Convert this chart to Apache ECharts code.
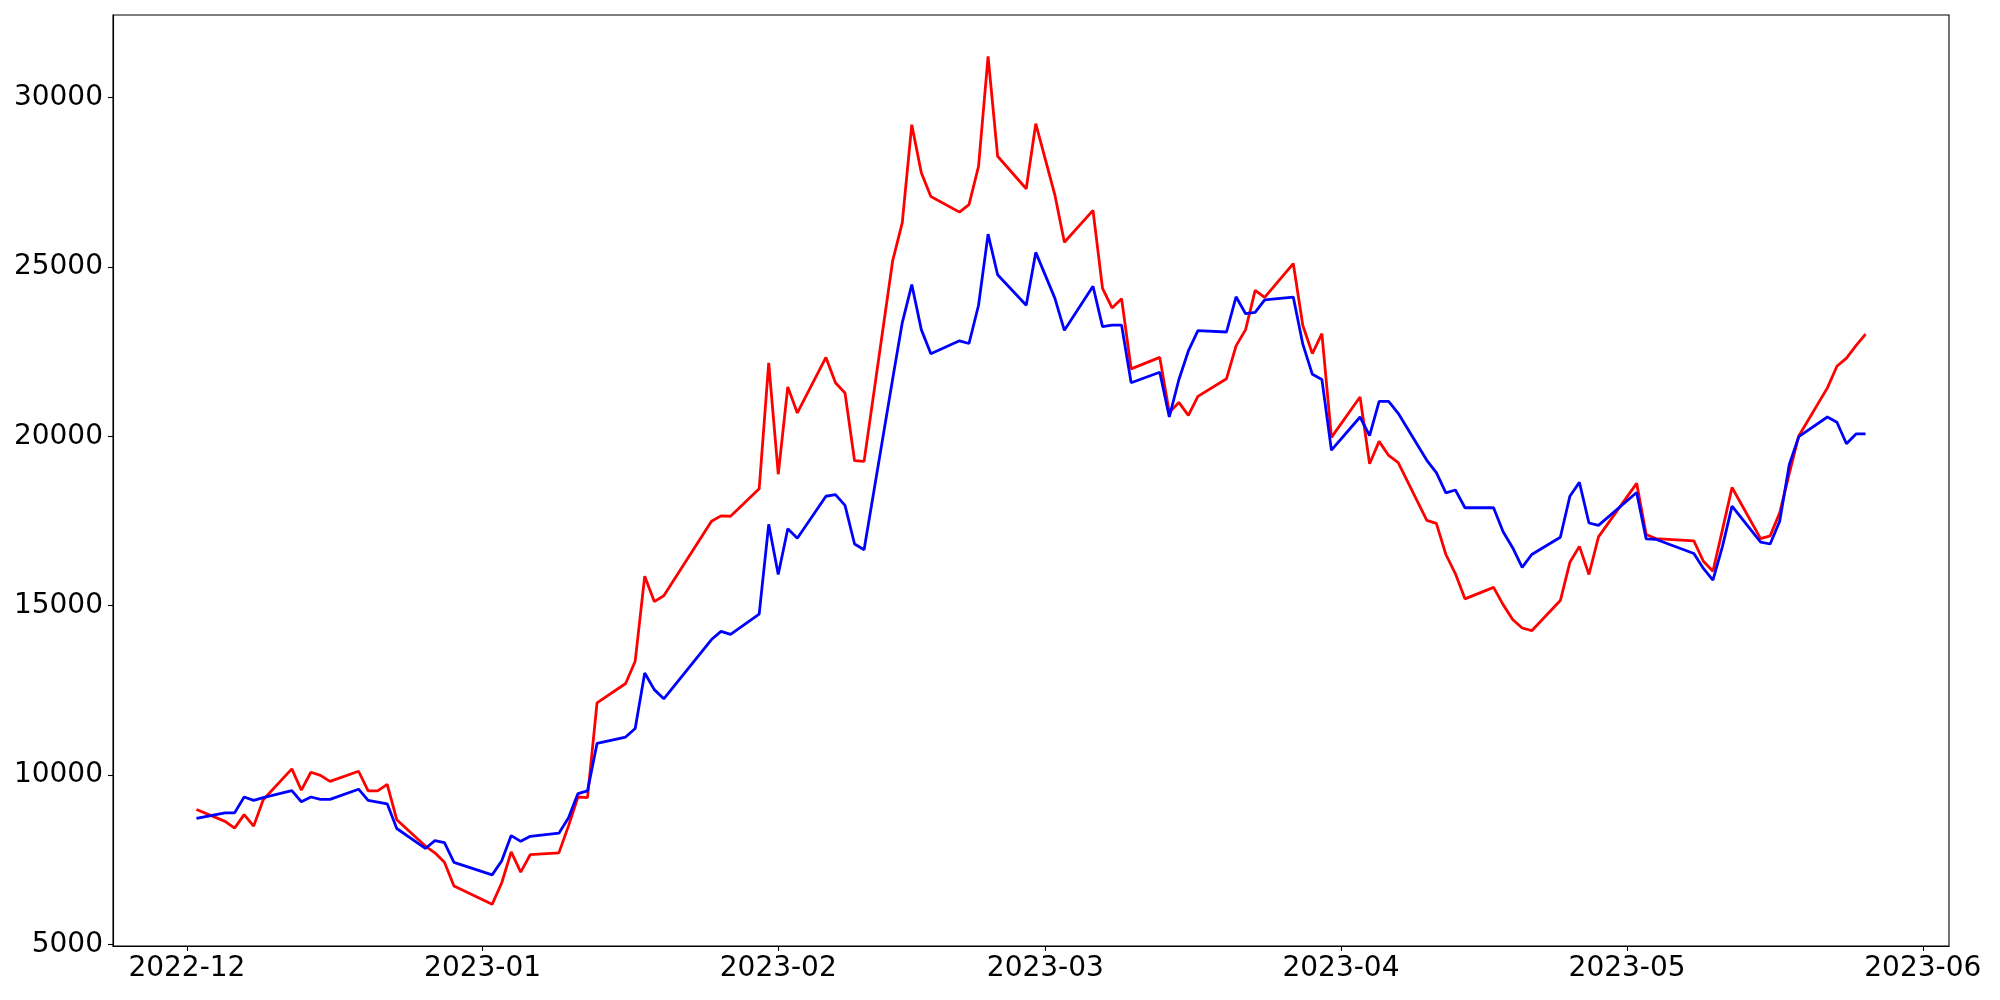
<!DOCTYPE html>
<html>
<head>
<meta charset="utf-8">
<script src="https://cdn.jsdelivr.net/npm/echarts@6/dist/echarts.min.js"></script>
<style>
html,body{margin:0;padding:0;background:#fff;}
#chart{width:2000px;height:1000px;}
</style>
</head>
<body>
<div id="chart"></div>
<script>
// Trading dates (weekdays, KRX-style calendar)
const dates = [
 '2022-12-02','2022-12-05','2022-12-06','2022-12-07','2022-12-08','2022-12-09',
 '2022-12-12','2022-12-13','2022-12-14','2022-12-15','2022-12-16',
 '2022-12-19','2022-12-20','2022-12-21','2022-12-22','2022-12-23',
 '2022-12-26','2022-12-27','2022-12-28','2022-12-29',
 '2023-01-02','2023-01-03','2023-01-04','2023-01-05','2023-01-06',
 '2023-01-09','2023-01-10','2023-01-11','2023-01-12','2023-01-13',
 '2023-01-16','2023-01-17','2023-01-18','2023-01-19','2023-01-20',
 '2023-01-25','2023-01-26','2023-01-27','2023-01-30','2023-01-31',
 '2023-02-01','2023-02-02','2023-02-03','2023-02-06','2023-02-07','2023-02-08','2023-02-09','2023-02-10',
 '2023-02-13','2023-02-14','2023-02-15','2023-02-16','2023-02-17',
 '2023-02-20','2023-02-21','2023-02-22','2023-02-23','2023-02-24','2023-02-27','2023-02-28',
 '2023-03-02','2023-03-03','2023-03-06','2023-03-07','2023-03-08','2023-03-09','2023-03-10',
 '2023-03-13','2023-03-14','2023-03-15','2023-03-16','2023-03-17',
 '2023-03-20','2023-03-21','2023-03-22','2023-03-23','2023-03-24',
 '2023-03-27','2023-03-28','2023-03-29','2023-03-30','2023-03-31',
 '2023-04-03','2023-04-04','2023-04-05','2023-04-06','2023-04-07',
 '2023-04-10','2023-04-11','2023-04-12','2023-04-13','2023-04-14',
 '2023-04-17','2023-04-18','2023-04-19','2023-04-20','2023-04-21',
 '2023-04-24','2023-04-25','2023-04-26','2023-04-27','2023-04-28',
 '2023-05-02','2023-05-03','2023-05-04','2023-05-08','2023-05-09','2023-05-10','2023-05-11','2023-05-12',
 '2023-05-15','2023-05-16','2023-05-17','2023-05-18','2023-05-19',
 '2023-05-22','2023-05-23','2023-05-24','2023-05-25','2023-05-26'
];

const redValues = [
 8980, 8630, 8430, 8830, 8490, 9270,
 10180, 9550, 10080, 9990, 9810,
 10110, 9530, 9530, 9720, 8680,
 7900, 7700, 7420, 6720,
 6180, 6810, 7730, 7130, 7650,
 7700, 8490, 9350, 9330, 12130,
 12700, 13360, 15870, 15120, 15290,
 17490, 17650, 17640, 18450, 22170,
 18880, 21460, 20690, 22330, 21580, 21280, 19280, 19260,
 25190, 26300, 29200, 27780, 27080,
 26620, 26840, 27970, 31220, 28270, 27310, 29230,
 27130, 25730, 26670, 24370, 23790, 24060, 21990,
 22330, 20700, 21000, 20620, 21180,
 21700, 22670, 23150, 24310, 24100,
 25100, 23270, 22440, 23030, 19970,
 21160, 19190, 19850, 19435, 19220,
 17515, 17430, 16510, 15940, 15200,
 15540, 15030, 14590, 14340, 14260,
 15150, 16280, 16750, 15920, 17030,
 18610, 17100, 16980, 16910, 16310, 16015, 17245, 18490,
 16980, 17060, 17740, 18900, 20010,
 21430, 22070, 22310, 22680, 23020
];

const blueValues = [
 8720, 8880, 8880, 9350, 9250, 9330,
 9540, 9210, 9350, 9280, 9280,
 9580, 9250, 9200, 9150, 8420,
 7830, 8060, 8000, 7420,
 7050, 7460, 8210, 8040, 8190,
 8280, 8730, 9450, 9530, 10930,
 11120, 11370, 13010, 12520, 12250,
 14000, 14240, 14150, 14750, 17400,
 15920, 17270, 16990, 18230, 18280, 17960, 16820, 16650,
 21700, 23350, 24480, 23150, 22440,
 22820, 22740, 23870, 25970, 24770, 23870, 25430,
 24080, 23130, 24430, 23240, 23280, 23280, 21580,
 21890, 20570, 21670, 22520, 23120,
 23080, 24120, 23620, 23660, 24030,
 24110, 22720, 21830, 21680, 19590,
 20570, 20020, 21030, 21030, 20680,
 19290, 18930, 18330, 18415, 17890,
 17890, 17180, 16710, 16130, 16510,
 17020, 18230, 18640, 17440, 17370,
 18340, 16970, 16960, 16540, 16100, 15750, 16750, 17940,
 16875, 16820, 17490, 19160, 19990,
 20570, 20415, 19780, 20070, 20070
];

const xTickDates = ['2022-12-01','2023-01-01','2023-02-01','2023-03-01','2023-04-01','2023-05-01','2023-06-01'];
const yTicks = [5000, 10000, 15000, 20000, 25000, 30000];

function toTs(s) {
  const p = s.split('-').map(Number);
  return Date.UTC(p[0], p[1] - 1, p[2]);
}
const DAY = 86400000;
const xMin = toTs('2022-12-01') - 7.75 * DAY;
const xMax = toTs('2022-12-01') + 184.75 * DAY;

const redData = dates.map((d, i) => [toTs(d), redValues[i]]);
const blueData = dates.map((d, i) => [toTs(d), blueValues[i]]);

const chart = echarts.init(document.getElementById('chart'), null, {renderer: 'canvas'});
const font = 'DejaVu Sans';
const fs = 28;
chart.setOption({
  animation: false,
  backgroundColor: '#ffffff',
  grid: {
    left: 113, right: 51, top: 15, bottom: 54,
    containLabel: false,
    show: true, borderColor: '#000', borderWidth: 1.1, backgroundColor: 'transparent'
  },
  xAxis: {
    type: 'value',
    min: xMin, max: xMax,
    scale: true,
    splitLine: {show: false},
    axisLine: {show: true, onZero: false, lineStyle: {color: '#000', width: 1.1}},
    axisTick: {show: true, length: 5, lineStyle: {color: '#000', width: 1.1}, customValues: xTickDates.map(toTs)},
    axisLabel: {
      color: '#000', fontFamily: font, fontSize: fs, margin: 9,
      customValues: xTickDates.map(toTs),
      formatter: function (v) {
        const d = new Date(v);
        return d.getUTCFullYear() + '-' + String(d.getUTCMonth() + 1).padStart(2, '0');
      }
    }
  },
  yAxis: {
    type: 'value',
    min: 4950, max: 32440,
    splitLine: {show: false},
    axisLine: {show: true, lineStyle: {color: '#000', width: 1.1}},
    axisTick: {show: true, length: 5, lineStyle: {color: '#000', width: 1.1}, customValues: yTicks},
    axisLabel: {color: '#000', fontFamily: font, fontSize: fs, margin: 10, customValues: yTicks,
      formatter: function (v) { return String(v); }}
  },
  series: [
    {type: 'line', data: redData, symbol: 'none', lineStyle: {color: '#ff0000', width: 2.8}, itemStyle: {color: '#ff0000'}, z: 2},
    {type: 'line', data: blueData, symbol: 'none', lineStyle: {color: '#0000ff', width: 2.8}, itemStyle: {color: '#0000ff'}, z: 3}
  ]
});
</script>
</body>
</html>
